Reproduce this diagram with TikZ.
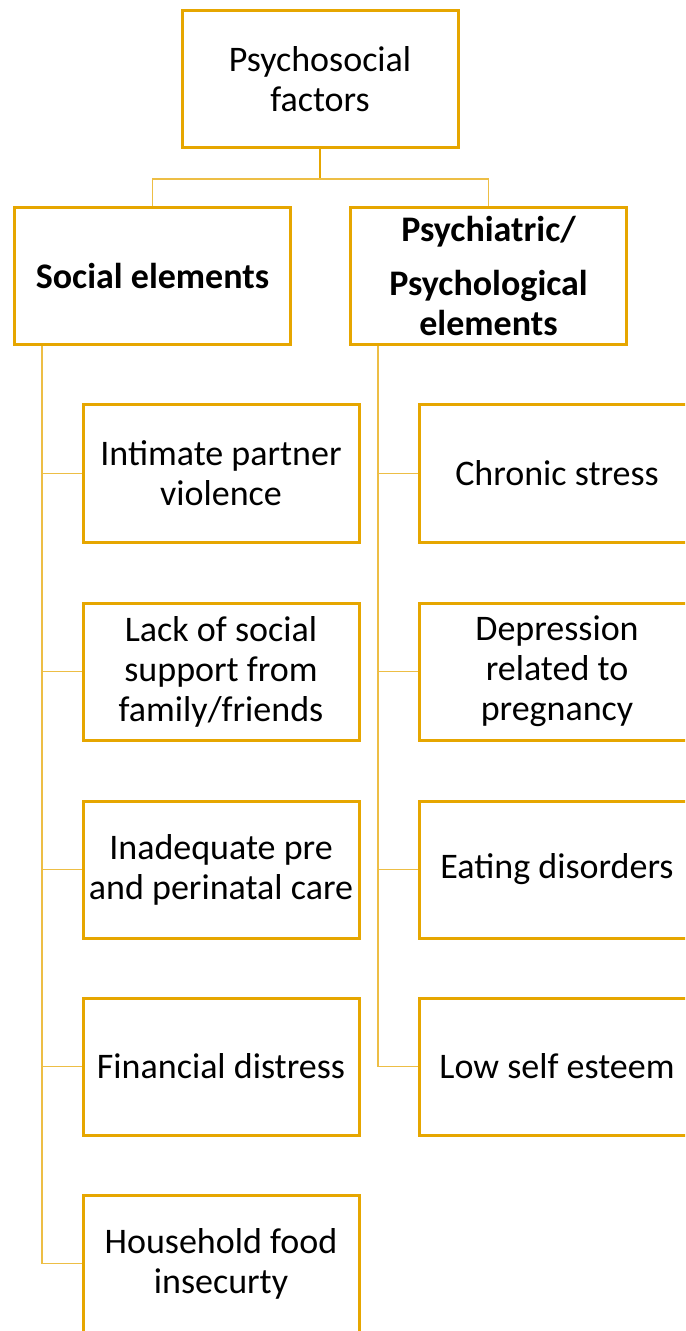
\documentclass[tikz,border=0pt]{standalone}
\usepackage{fontspec}
\setmainfont{Carlito}
\usetikzlibrary{positioning}
\definecolor{boxgold}{HTML}{E6A600}
\definecolor{linkgold}{HTML}{EDBE45}

\tikzset{
  factor/.style={draw=boxgold, line width=1.5pt, fill=white,
    minimum width=138pt, minimum height=68.5pt, align=center, inner sep=2pt,
    font=\fontsize{18}{20}\selectfont},
  headfactor/.style={factor, font=\fontsize{18}{20}\selectfont\bfseries},
  link/.style={draw=linkgold, line width=0.8pt},
}

\begin{document}
\begin{tikzpicture}[x=0.5pt, y=-0.5pt]
    \clip (0,0) rectangle (685,1331);
    \fill[white] (0,0) rectangle (685,1331);

    % Root box
    \node[factor] (root) at (320,79) {Psychosocial\\factors};

    % The two groups
    \node[headfactor] (social) at (152.5,276.5) {Social elements};
    \node[headfactor] (psych) at (488.5,276.5) {Psychiatric/\\[7pt]Psychological\\elements};

    % Root to groups
    \draw[link, draw=boxgold] (root.south) -- ++(0,30) coordinate (split);
    \draw[link] (split) -| (social.north);
    \draw[link] (split) -| (psych.north);

    % Spines
    \path (social.south west) ++(29,0) coordinate (sspine);
    \path (psych.south west) ++(29,0) coordinate (pspine);

    % Social elements
    \foreach \name/\y/\txt in {s1/473.5/{Intimate partner\\violence},
                               s2/671.5/{Lack of social\\support from\\family/friends},
                               s3/869.5/{Inadequate pre\\and perinatal care},
                               s4/1066.5/{Financial distress},
                               s5/1263.5/{Household food\\insecurty}} {
        \node[factor] (\name) at (221,\y) {\txt};
        \draw[link] (sspine) |- (\name.west);
    }

    % Psychiatric / psychological elements
    \foreach \name/\y/\txt in {p1/473.5/{Chronic stress},
                               p2/671.5/{Depression\\related to\\pregnancy},
                               p3/869.5/{Eating disorders},
                               p4/1066.5/{Low self esteem}} {
        \node[factor] (\name) at (557,\y) {\txt};
        \draw[link] (pspine) |- (\name.west);
    }

\end{tikzpicture}
\end{document}
